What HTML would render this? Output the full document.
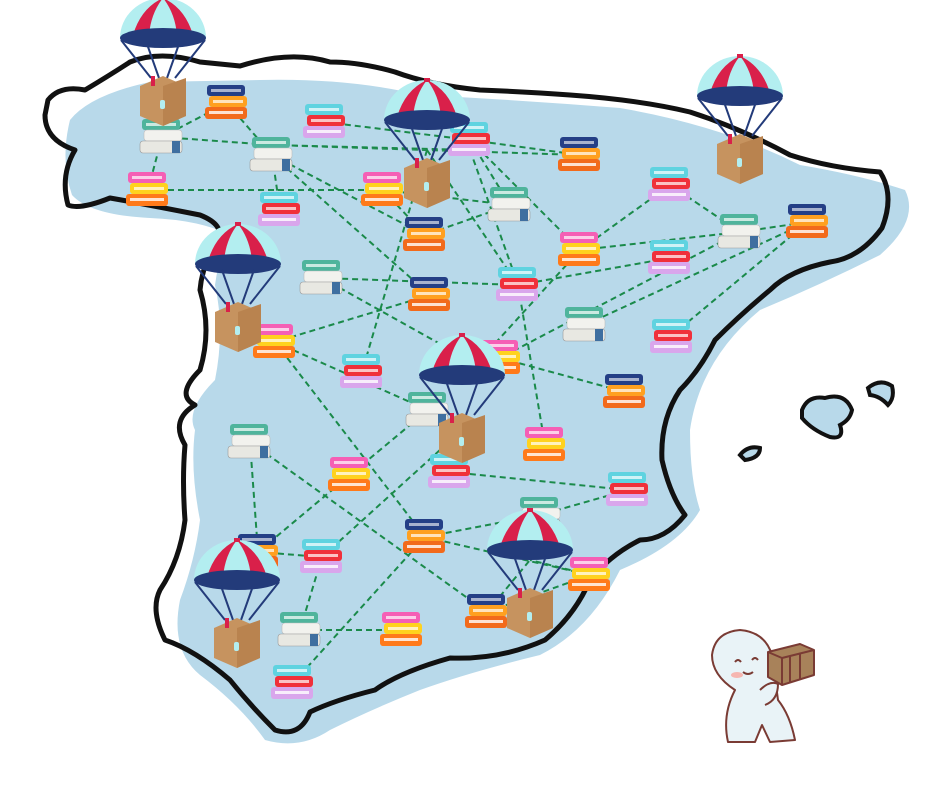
<!DOCTYPE html>
<html><head><meta charset="utf-8"><style>html,body{margin:0;padding:0;background:#fff}svg{display:block}</style></head><body>
<svg width="940" height="788" viewBox="0 0 940 788" xmlns="http://www.w3.org/2000/svg">
<defs>
<g id="bw">
<rect x="-20" y="-18" width="38" height="11" rx="3" fill="#f55fb5"/><rect x="-16" y="-14" width="30" height="3" fill="#fff" opacity=".7"/>
<rect x="-18" y="-7" width="38" height="11" rx="3" fill="#ffd21e"/><rect x="-14" y="-3" width="30" height="3" fill="#fff" opacity=".7"/>
<rect x="-22" y="4" width="42" height="12" rx="3" fill="#ff7a1a"/><rect x="-18" y="8" width="34" height="3" fill="#fff" opacity=".8"/>
</g>
<g id="bc">
<rect x="-20" y="-18" width="38" height="11" rx="3" fill="#4fb49c"/><rect x="-16" y="-14" width="30" height="3" fill="#fff" opacity=".7"/>
<rect x="-18" y="-7" width="38" height="11" rx="3" fill="#f2f2ee" stroke="#bbb" stroke-width=".6"/>
<rect x="-22" y="4" width="42" height="12" rx="3" fill="#e8e8e2" stroke="#999" stroke-width=".6"/><rect x="10" y="4" width="8" height="12" fill="#3f6fa0"/>
</g>
<g id="bp">
<rect x="-20" y="-18" width="38" height="11" rx="3" fill="#5fd3e0"/><rect x="-16" y="-14" width="30" height="3" fill="#fff" opacity=".7"/>
<rect x="-18" y="-7" width="38" height="11" rx="3" fill="#f0303a"/><rect x="-14" y="-3" width="30" height="3" fill="#fff" opacity=".7"/>
<rect x="-22" y="4" width="42" height="12" rx="3" fill="#d9a6ec"/><rect x="-18" y="8" width="34" height="3" fill="#fff" opacity=".8"/>
</g>
<g id="bn">
<rect x="-20" y="-18" width="38" height="11" rx="3" fill="#243f86"/><rect x="-16" y="-14" width="30" height="3" fill="#fff" opacity=".6"/>
<rect x="-18" y="-7" width="38" height="11" rx="3" fill="#ffa020"/><rect x="-14" y="-3" width="30" height="3" fill="#fff" opacity=".7"/>
<rect x="-22" y="4" width="42" height="12" rx="3" fill="#f26a1b"/><rect x="-18" y="8" width="34" height="3" fill="#fff" opacity=".8"/>
</g>
<g id="pc">
<path d="M-43,0 A43,40 0 0 1 43,0 Z" fill="#b3eef0"/>
<path d="M-30,-3 Q-22,-30 0,-40 Q-12,-25 -14,-3 Z" fill="#d9204a"/>
<path d="M30,-3 Q22,-30 0,-40 Q12,-25 14,-3 Z" fill="#d9204a"/>
<rect x="-3" y="-42" width="6" height="4" fill="#d9204a"/>
<ellipse cx="0" cy="0" rx="43" ry="10" fill="#233b7a"/>
<g stroke="#233b7a" stroke-width="2"><line x1="-42" y1="2" x2="-12" y2="40"/><line x1="-16" y1="6" x2="-4" y2="40"/><line x1="16" y1="6" x2="4" y2="40"/><line x1="42" y1="2" x2="12" y2="40"/></g>
<path d="M-23,48 L0,38 L23,48 L23,78 L0,88 L-23,78 Z" fill="#c6935f"/>
<path d="M0,48 L23,40 L23,78 L0,88 Z" fill="#b9834f"/>
<rect x="-12" y="38" width="4" height="10" fill="#d9204a"/>
<rect x="-3" y="62" width="5" height="9" rx="2" fill="#b3eef0"/>
</g>
</defs>
<rect width="940" height="788" fill="#fff"/>
<!-- blue fill -->
<path d="M70,120 Q90,95 150,82 L260,80 Q350,78 420,95 Q520,100 620,108 Q720,125 800,165 Q860,175 905,190 Q920,220 880,255 Q820,285 760,310 Q700,360 690,430 Q690,480 700,510 Q680,545 620,570 Q590,630 540,655 Q470,672 420,690 Q370,710 330,730 Q300,750 265,740 Q240,705 200,675 Q170,650 180,600 Q195,560 200,520 Q190,470 195,430 Q185,410 215,380 Q225,330 215,285 Q220,250 230,235 Q200,220 150,218 Q90,215 72,195 Q60,160 70,120 Z" fill="#b8d9ea"/>
<!-- outline -->
<path d="M48,100 Q60,85 85,90 Q110,75 130,62 Q160,50 200,62 L240,66 Q290,50 330,62 Q360,62 395,72 Q430,85 480,90 Q530,92 570,95 Q640,100 690,112 Q740,128 790,155 Q830,168 880,172 Q895,195 882,228 Q860,258 830,262 Q790,270 770,290 Q740,315 715,340 Q700,370 680,390 Q660,420 662,460 Q670,495 685,515 Q665,540 640,540 Q610,555 590,580 Q575,615 545,640 Q500,660 450,658 Q400,672 375,690 Q335,700 310,712 Q300,738 275,730 Q250,705 230,680 Q195,650 165,640 Q150,610 160,590 Q180,560 185,520 Q182,480 185,445 Q170,420 195,405 Q175,395 200,370 Q212,330 200,290 Q202,265 218,240 Q225,225 200,215 Q150,205 110,198 Q80,210 68,205 Q60,175 75,150 Q45,140 45,115 Z" fill="none" stroke="#111" stroke-width="5" stroke-linejoin="round"/>
<!-- islands -->
<path d="M802,410 Q808,395 825,398 Q845,392 852,410 Q850,420 840,425 Q845,440 830,437 Q812,430 802,418 Z" fill="#b8d9ea" stroke="#111" stroke-width="4"/>
<path d="M868,388 Q880,378 892,386 Q895,398 888,405 Q880,396 870,395 Z" fill="#b8d9ea" stroke="#111" stroke-width="4"/>
<path d="M740,455 Q748,445 760,448 Q760,458 745,460 Z" fill="#b8d9ea" stroke="#111" stroke-width="4"/>
<!-- edges -->
<g stroke="#1a8a4a" stroke-width="2" stroke-dasharray="6,4" fill="none">
<path d="M227,103 L162,137 M227,103 L272,155 M162,137 L148,190 M162,137 L272,145 L470,150 M272,145 L580,155 M148,190 L383,190 M272,155 L280,210 M272,155 L425,235 M272,155 L430,295 M325,122 L470,140 M383,190 L510,205 M383,190 L425,235 M470,140 L580,155 M470,140 L510,205 M470,140 L580,250 M427,150 L362,372 M427,150 L518,285 M470,150 L520,290 M580,250 L670,185 M580,250 L740,232 M670,185 L740,232 M740,232 L808,222 M808,222 L670,337 M808,222 L585,325 M740,232 L500,358 M670,258 L518,285 M518,285 L322,278 M518,285 L545,445 M322,278 L460,355 M430,295 L275,342 M510,205 L425,235 M580,250 L480,360 M275,342 L428,410 M275,342 L425,537 M500,358 L625,392 M428,410 L350,475 M450,472 L628,490 M628,490 L540,515 M540,515 L425,537 M425,537 L590,575 M425,537 L293,683 M462,430 L322,557 M250,442 L258,552 M250,442 L487,612 M350,475 L258,552 M258,552 L322,557 M487,612 L590,575 M487,612 L530,560 M402,630 L300,630 M300,630 L322,557 M590,575 L530,560"/>
</g>
<!-- books -->
<use href="#bn" x="227" y="103"/><use href="#bc" x="162" y="137"/><use href="#bc" x="272" y="155"/><use href="#bw" x="148" y="190"/><use href="#bp" x="280" y="210"/><use href="#bp" x="325" y="122"/><use href="#bw" x="383" y="190"/><use href="#bp" x="470" y="140"/><use href="#bn" x="580" y="155"/><use href="#bn" x="425" y="235"/><use href="#bc" x="510" y="205"/><use href="#bw" x="580" y="250"/><use href="#bp" x="670" y="185"/><use href="#bc" x="740" y="232"/><use href="#bn" x="808" y="222"/><use href="#bp" x="670" y="258"/><use href="#bc" x="322" y="278"/><use href="#bn" x="430" y="295"/><use href="#bp" x="518" y="285"/><use href="#bw" x="275" y="342"/><use href="#bp" x="362" y="372"/><use href="#bc" x="585" y="325"/><use href="#bp" x="672" y="337"/><use href="#bw" x="500" y="358"/><use href="#bn" x="625" y="392"/><use href="#bc" x="428" y="410"/><use href="#bc" x="250" y="442"/><use href="#bw" x="545" y="445"/><use href="#bw" x="350" y="475"/><use href="#bp" x="450" y="472"/><use href="#bp" x="628" y="490"/><use href="#bc" x="540" y="515"/><use href="#bn" x="425" y="537"/><use href="#bn" x="258" y="552"/><use href="#bp" x="322" y="557"/><use href="#bw" x="590" y="575"/><use href="#bn" x="487" y="612"/><use href="#bc" x="300" y="630"/><use href="#bw" x="402" y="630"/><use href="#bp" x="293" y="683"/>
<!-- parachutes -->
<use href="#pc" x="163" y="38"/><use href="#pc" x="427" y="120"/><use href="#pc" x="740" y="96"/><use href="#pc" x="238" y="264"/><use href="#pc" x="462" y="375"/><use href="#pc" x="530" y="550"/><use href="#pc" x="237" y="580"/>
<!-- character -->
<g stroke="#7a3b34" stroke-width="2" stroke-linejoin="round">
<path d="M735,690 Q712,675 712,655 Q715,632 740,630 Q765,632 772,655 L778,700 Q790,715 795,740 L770,742 L762,725 L755,742 L728,742 Q722,715 735,690 Z" fill="#e9f3f7"/>
<path d="M768,652 L800,644 L814,650 L814,675 L782,685 L768,677 Z" fill="#a8825a"/>
<path d="M768,652 L782,658 L782,685 M782,658 L814,650 M790,656 L790,682 M800,653 L800,679" fill="none"/>
<path d="M735,662 q3,-4 6,0 M752,660 q3,-4 6,0 M743,672 q5,4 10,0" fill="none"/>
<path d="M760,690 Q770,680 778,684 Q778,700 765,705" fill="#e9f3f7"/>
</g>
<ellipse cx="737" cy="675" rx="6" ry="3" fill="#f6b6b0"/>
</svg>
</body></html>
